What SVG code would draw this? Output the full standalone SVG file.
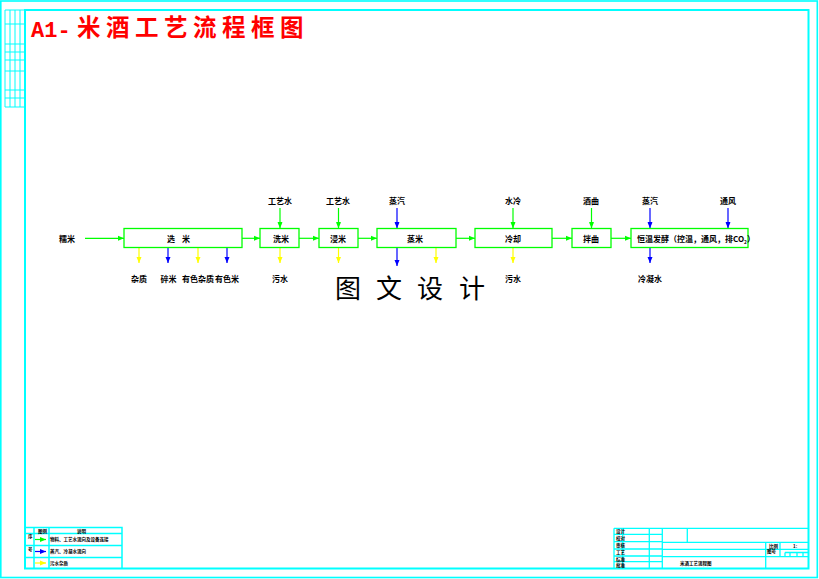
<svg xmlns="http://www.w3.org/2000/svg" width="819" height="579" viewBox="0 0 819 579">
<style>
.fr{fill:none;stroke:#00ffff}
.box{fill:none;stroke:#00ff00;stroke-width:1.3}
.g{stroke:#00ff00;stroke-width:1.2;fill:none}
.b{stroke:#0000ff;stroke-width:1.2;fill:none}
.y{stroke:#ffff00;stroke-width:1.2;fill:none}
.lb{font-family:"Noto Sans CJK SC","Liberation Sans",sans-serif;font-size:8px;font-weight:700;fill:#000}
.lm{text-anchor:middle}
.tiny{font-family:"Noto Sans CJK SC","Liberation Sans",sans-serif;font-size:4.5px;font-weight:700;fill:#000}
.big{font-family:"Noto Sans CJK SC",sans-serif;font-size:26px;fill:#000;text-anchor:middle}
</style>
<defs>
<marker id="ag" markerUnits="userSpaceOnUse" markerWidth="8" markerHeight="7" refX="6" refY="3.5" orient="auto"><path d="M0,1 L6,3.5 L0,6 Z M-1.5,1.5 H0 V5.5 H-1.5 Z" fill="#00ff00"/></marker>
<marker id="ab" markerUnits="userSpaceOnUse" markerWidth="8" markerHeight="7" refX="6" refY="3.5" orient="auto"><path d="M0,1 L6,3.5 L0,6 Z M-1.5,1.5 H0 V5.5 H-1.5 Z" fill="#0000ff"/></marker>
<marker id="ay" markerUnits="userSpaceOnUse" markerWidth="8" markerHeight="7" refX="6" refY="3.5" orient="auto"><path d="M0,1 L6,3.5 L0,6 Z M-1.5,1.5 H0 V5.5 H-1.5 Z" fill="#ffff00"/></marker>
</defs>
<rect width="819" height="579" fill="#fff"/>
<g id="frame">
<rect class="fr" x="0.8" y="1" width="816.5" height="576.5" stroke-width="1.6"/>
<rect class="fr" x="25" y="10" width="783.5" height="558.5" stroke-width="2"/>
<g class="fr" stroke-width="1">
<path d="M5,10 V107 M10,10 V107 M15,10 V107 M20,10 V107 M5,10 H25 M5,24 H25 M5,44 H25 M5,52 H25 M5,60 H25 M5,71 H25 M5,90 H25 M5,98 H25 M5,107 H25"/>
</g>
</g>
<g id="title">
<text x="31" y="37" font-family="Liberation Mono,monospace" font-size="22" font-weight="700" fill="#ff0000">A1-</text>
<text x="77" y="36" font-family="Noto Sans CJK SC,sans-serif" font-size="23.5" font-weight="700" letter-spacing="5.5" fill="#ff0000">米酒工艺流程框图</text>
</g>
<g id="connectors">
<path class="g" d="M85,238.3 H124" marker-end="url(#ag)"/>
<path class="g" d="M242,238.3 H260" marker-end="url(#ag)"/>
<path class="g" d="M299,238.3 H319" marker-end="url(#ag)"/>
<path class="g" d="M358,238.3 H377" marker-end="url(#ag)"/>
<path class="g" d="M456,238.3 H475" marker-end="url(#ag)"/>
<path class="g" d="M552,238.3 H572" marker-end="url(#ag)"/>
<path class="g" d="M611,238.3 H631" marker-end="url(#ag)"/>
<path class="y" d="M139,247.5 V263" marker-end="url(#ay)"/>
<path class="b" d="M168,247.5 V263" marker-end="url(#ab)"/>
<path class="y" d="M198,247.5 V263" marker-end="url(#ay)"/>
<path class="b" d="M227,247.5 V263" marker-end="url(#ab)"/>
<path class="g" d="M280,208 V228.3" marker-end="url(#ag)"/>
<path class="y" d="M280,247.5 V263" marker-end="url(#ay)"/>
<path class="g" d="M338.5,208 V228.3" marker-end="url(#ag)"/>
<path class="y" d="M338.5,247.5 V263" marker-end="url(#ay)"/>
<path class="b" d="M397,208 V228.3" marker-end="url(#ab)"/>
<path class="b" d="M397,247.5 V266" marker-end="url(#ab)"/>
<path class="y" d="M436,247.5 V263" marker-end="url(#ay)"/>
<path class="g" d="M513,208 V228.3" marker-end="url(#ag)"/>
<path class="y" d="M513,247.5 V263" marker-end="url(#ay)"/>
<path class="g" d="M591.5,208 V228.3" marker-end="url(#ag)"/>
<path class="b" d="M650,208 V228.3" marker-end="url(#ab)"/>
<path class="b" d="M728,208 V228.3" marker-end="url(#ab)"/>
<path class="b" d="M650,247.5 V263" marker-end="url(#ab)"/>
</g>
<g id="n-nuomi"><text class="lb" x="59" y="242">糯米</text></g>
<g id="n-xuanmi"><rect class="box" x="124" y="228.5" width="118" height="19"/><text class="lb" x="167" y="242" letter-spacing="7">选米</text></g>
<g id="n-ximi"><rect class="box" x="260" y="228.5" width="39" height="19"/><text class="lb" x="273" y="242">洗米</text></g>
<g id="n-jinmi"><rect class="box" x="319" y="228.5" width="39" height="19"/><text class="lb" x="330" y="242">浸米</text></g>
<g id="n-zhengmi"><rect class="box" x="377" y="228.5" width="79" height="19"/><text class="lb" x="407" y="242">蒸米</text></g>
<g id="n-lengque"><rect class="box" x="475" y="228.5" width="77" height="19"/><text class="lb" x="505" y="242">冷却</text></g>
<g id="n-banqu"><rect class="box" x="572" y="228.5" width="39" height="19"/><text class="lb" x="583" y="242">拌曲</text></g>
<g id="n-fajiao"><rect class="box" x="631" y="228.5" width="117" height="19"/><text class="lb" x="637" y="242" font-size="6.8">恒温发酵（控温，通风，排CO<tspan font-size="4.8" dy="1.5">2</tspan><tspan dy="-1.5">）</tspan></text></g>
<g id="inputs">
<text class="lb lm" x="280" y="204">工艺水</text>
<text class="lb lm" x="338" y="204">工艺水</text>
<text class="lb lm" x="397" y="204">蒸汽</text>
<text class="lb lm" x="513" y="204">水冷</text>
<text class="lb lm" x="591" y="204">酒曲</text>
<text class="lb lm" x="650" y="204">蒸汽</text>
<text class="lb lm" x="728" y="204">通风</text>
</g>
<g id="outputs">
<text class="lb lm" x="139" y="282">杂质</text>
<text class="lb lm" x="168.5" y="282">碎米</text>
<text class="lb lm" x="198" y="282">有色杂质</text>
<text class="lb lm" x="227" y="282">有色米</text>
<text class="lb lm" x="280" y="282">污水</text>
<text class="lb lm" x="513" y="282">污水</text>
<text class="lb lm" x="650" y="282">冷凝水</text>
</g>
<g id="watermark">
<text class="big" x="348" y="298">图</text>
<text class="big" x="389" y="298">文</text>
<text class="big" x="430" y="298">设</text>
<text class="big" x="472" y="298">计</text>
</g>
<g id="legend">
<path class="fr" stroke-width="1.5" d="M25,527.5 H122 V568 M34,527.5 V568 M49,527.5 V568 M25,533.5 H122 M25,545.5 H122 M25,557.5 H122"/>
<text class="tiny" x="38" y="532.5">图例</text>
<text class="tiny" x="77" y="532.5">说明</text>
<text class="tiny" x="28" y="538">序</text>
<text class="tiny" x="28" y="551">号</text>
<path class="g" d="M35,539.5 H46" marker-end="url(#ag)"/>
<path class="b" d="M35,551.5 H46" marker-end="url(#ab)"/>
<path class="y" d="M35,563 H46" marker-end="url(#ay)"/>
<text class="tiny" x="50" y="541">物料、工艺水流向及设备连接</text>
<text class="tiny" x="50" y="553">蒸汽、冷凝水流向</text>
<text class="tiny" x="50" y="564.5">污水杂质</text>
</g>
<g id="titleblock">
<path class="fr" stroke-width="1.3" d="M614,528.3 H808 M614,528.3 V568 M622.7,528.3 V568 M649.3,528.3 V568 M662.3,528.3 V568 M614,534.3 H662.3 M614,541.7 H662.3 M614,549 H662.3 M614,556 H662.3 M614,561.7 H662.3 M687.3,528.3 V542.3 M662.3,542.3 H808 M662.3,549.3 H765.7 M662.3,556.7 H808 M765.7,542.3 V568 M780,542.3 V556.7 M765.7,549.3 H808 M785,552.5 H808 M785,552.5 V556.7 M790,552.5 V556.7 M797,552.5 V556.7 M803,552.5 V556.7"/>
<text class="tiny" x="680" y="565">米酒工艺流程图</text>
<text class="tiny" x="616" y="533">设计</text>
<text class="tiny" x="616" y="540">校对</text>
<text class="tiny" x="616" y="547">审核</text>
<text class="tiny" x="616" y="554">工艺</text>
<text class="tiny" x="616" y="560.5">标准</text>
<text class="tiny" x="616" y="566.5">批准</text>
<text class="tiny" x="769" y="547.5">比例</text>
<text class="tiny" x="767" y="553">图号</text>
<text class="tiny" x="793" y="547.5">1:</text>
</g>
</svg>
